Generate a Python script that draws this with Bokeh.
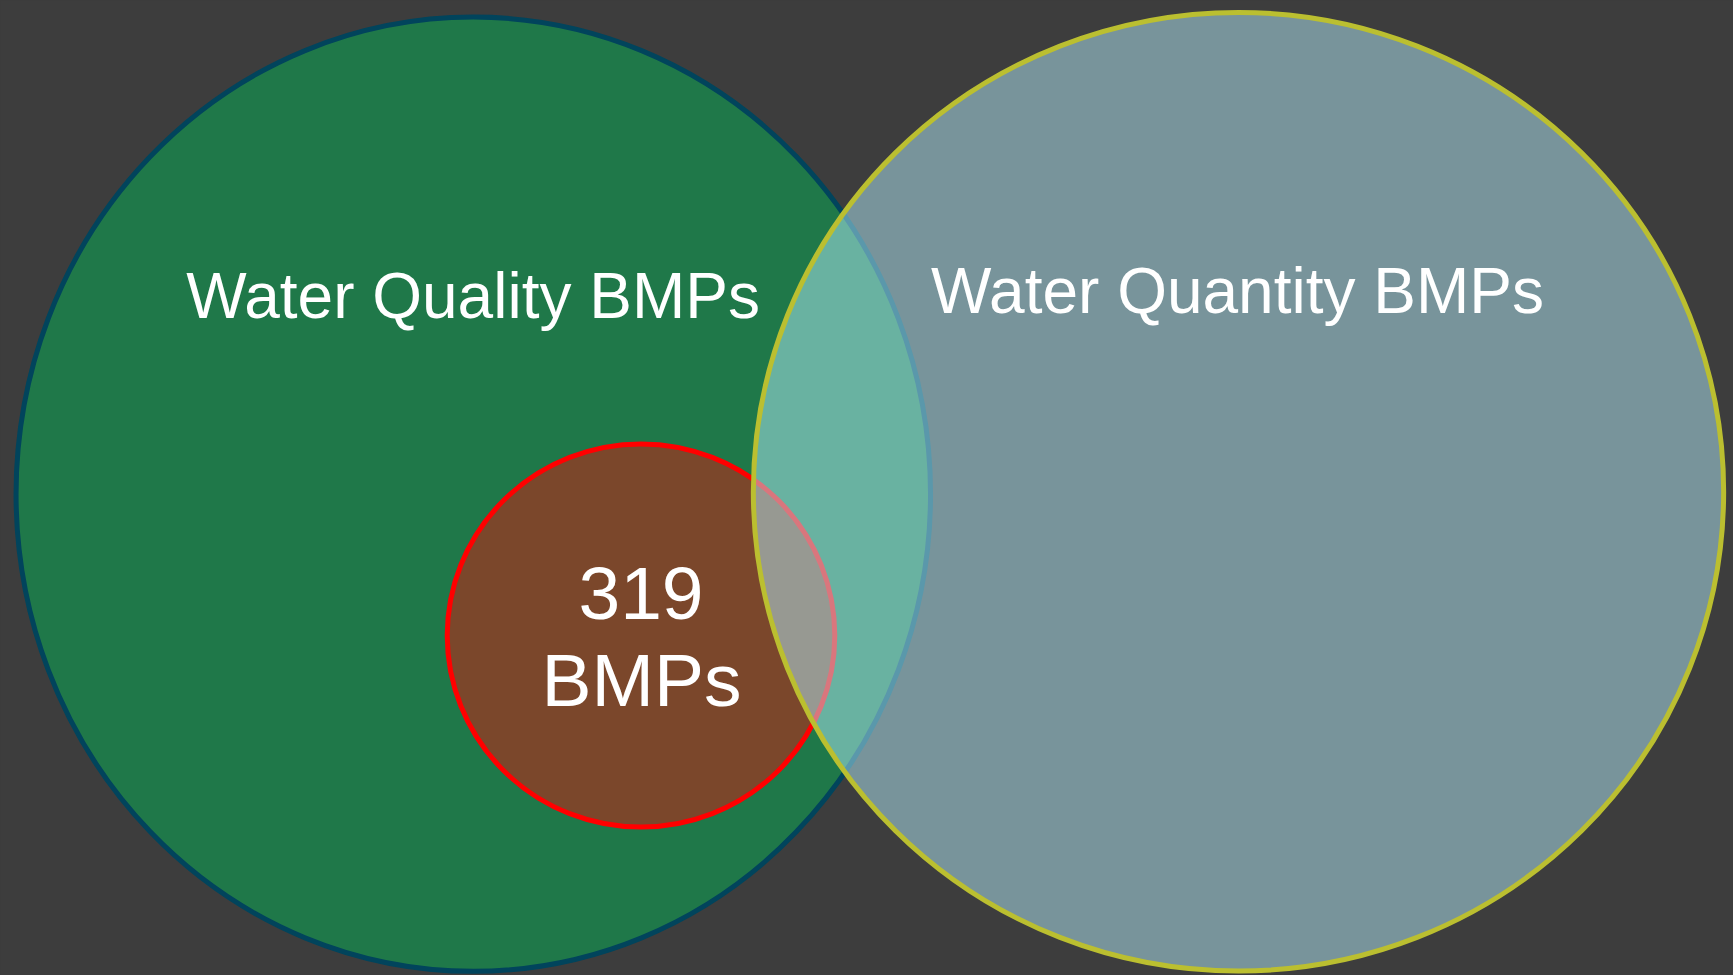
from bokeh.plotting import figure
from bokeh.models import ColumnDataSource, Range1d, GlobalInlineStyleSheet
from bokeh.core.properties import value
from bokeh.embed import file_html
from bokeh.resources import INLINE

# ---- data (pixel geometry of the Venn sets) ----
set_names = ["Water Quality BMPs", "Water Quantity BMPs", "319 BMPs"]
set_cx = [472.8, 1238.0, 640.5]
set_cy = [493.7, 491.3, 635.0]
set_w = [914.5, 970.3, 387.6]
set_h = [954.7, 958.6, 383.4]
set_fill = ["#1F7849", "#B3EBF9", "#7B472B"]
set_fill_alpha = [1.0, 0.5, 1.0]
set_line = ["#01445C", "#BBBF30", "#FF0000"]

count_319 = 319
label_text = ["Water Quality BMPs", "Water Quantity BMPs", str(count_319), "BMPs"]
label_x = [472.5, 1237.0, 640.5, 641.0]
label_y = [295.3, 290.3, 593.3, 679.3]
label_size = ["64px", "64px", "75px", "75px"]

BG = "#3D3D3D"

p = figure(width=1733, height=975, output_backend="svg", toolbar_location=None,
           x_range=Range1d(0, 1733), y_range=Range1d(975, 0),
           x_axis_type=None, y_axis_type=None, min_border=0)
p.background_fill_color = BG
p.border_fill_color = BG
p.outline_line_color = None
p.xgrid.visible = False
p.ygrid.visible = False
p.stylesheets = [GlobalInlineStyleSheet(css="html, body { background-color: #3D3D3D; }")]

# draw order: quality set, 319 subset, quantity set (semi-transparent, on top)
for i in [0, 2, 1]:
    src = ColumnDataSource(dict(x=[set_cx[i]], y=[set_cy[i]], w=[set_w[i]], h=[set_h[i]]))
    p.ellipse(x="x", y="y", width="w", height="h", source=src,
              fill_color=set_fill[i], fill_alpha=set_fill_alpha[i],
              line_color=set_line[i], line_width=5)

lab = ColumnDataSource(dict(x=label_x, y=label_y, t=label_text, s=label_size))
p.text(x="x", y="y", text="t", source=lab, text_font_size="s",
       text_font=value("Liberation Sans"), text_color="white",
       text_align="center", text_baseline="alphabetic")

open("out.html", "w").write(file_html(p, INLINE))
